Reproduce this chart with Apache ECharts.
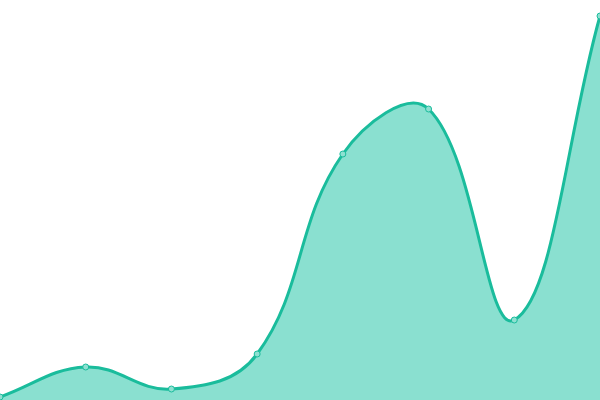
<!DOCTYPE html>
<html><head><meta charset="utf-8">
<script src="https://cdn.jsdelivr.net/npm/echarts@6/dist/echarts.min.js"></script>
<style>html,body{margin:0;padding:0;background:#fff}#c{width:600px;height:400px}</style>
</head><body><div id="c"></div>
<script>
const categories = ['A','B','C','D','E','F','G','H'];
const values = [3, 33, 11, 46, 246, 291, 80, 384];

const LINE_COLOR = '#1abc9c';
const AREA_COLOR = '#8ae0d0';
const TENSION = 0.4;

function splinePath(pts, t, w, h) {
  const n = pts.length;
  const cps = pts.map((cur, i) => {
    const prev = pts[i - 1] || cur;
    const next = pts[i + 1] || cur;
    const d01 = Math.hypot(cur[0] - prev[0], cur[1] - prev[1]);
    const d12 = Math.hypot(next[0] - cur[0], next[1] - cur[1]);
    let s01 = d01 / (d01 + d12), s12 = d12 / (d01 + d12);
    if (!isFinite(s01)) s01 = 0;
    if (!isFinite(s12)) s12 = 0;
    const fa = t * s01, fb = t * s12;
    const dx = next[0] - prev[0], dy = next[1] - prev[1];
    const clamp = (p) => [Math.min(Math.max(p[0], 0), w), Math.min(Math.max(p[1], 0), h)];
    return {
      p: clamp([cur[0] - fa * dx, cur[1] - fa * dy]),
      n: clamp([cur[0] + fb * dx, cur[1] + fb * dy])
    };
  });
  let d = 'M' + pts[0][0] + ' ' + pts[0][1];
  for (let i = 0; i < n - 1; i++) {
    const a = cps[i].n, b = cps[i + 1].p, e = pts[i + 1];
    d += ' C' + a[0] + ' ' + a[1] + ' ' + b[0] + ' ' + b[1] + ' ' + e[0] + ' ' + e[1];
  }
  return d;
}

const chart = echarts.init(document.getElementById('c'));
chart.setOption({
  animation: false,
  grid: {left: 0, right: 0, top: 0, bottom: 0},
  xAxis: {type: 'category', data: categories, boundaryGap: false, show: false},
  yAxis: {type: 'value', min: 0, max: 400, show: false},
  series: [{
    type: 'custom',
    clip: false,
    z: 1,
    data: values.map((v, i) => [i, v]),
    encode: {x: 0, y: 1},
    renderItem: function (params, api) {
      if (params.dataIndex !== 0) return null;
      const pts = values.map((v, i) => api.coord([i, v]));
      const base = api.coord([0, 0])[1];
      const w = api.getWidth(), h = api.getHeight();
      const line = splinePath(pts, TENSION, w, h);
      const last = pts[pts.length - 1], first = pts[0];
      const area = line + ' L' + last[0] + ' ' + base + ' L' + first[0] + ' ' + base + ' Z';
      return {
        type: 'group',
        children: [
          {type: 'path', shape: {pathData: area}, style: {fill: AREA_COLOR, stroke: null}},
          {type: 'path', shape: {pathData: line}, style: {fill: 'none', stroke: LINE_COLOR, lineWidth: 3}}
        ]
      };
    }
  }, {
    type: 'line',
    z: 2,
    data: values,
    symbol: 'circle',
    symbolSize: 6,
    showSymbol: true,
    lineStyle: {width: 0, opacity: 0},
    itemStyle: {color: '#8ee0d1', borderColor: LINE_COLOR, borderWidth: 1}
  }]
});
</script></body></html>
